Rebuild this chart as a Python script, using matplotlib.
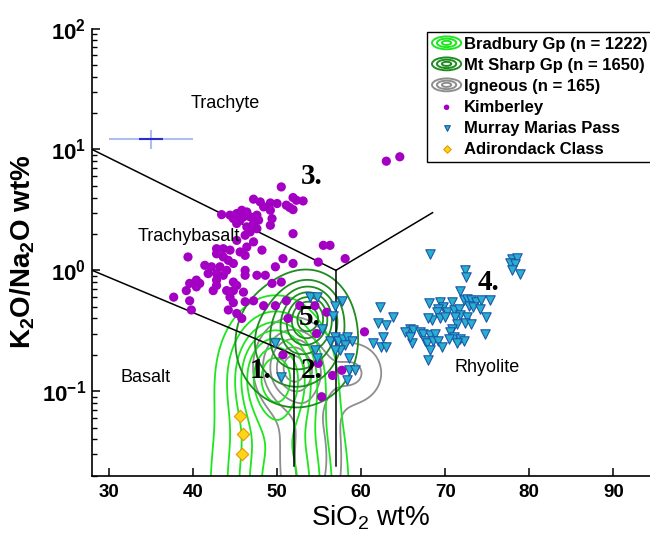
import numpy as np
import matplotlib
matplotlib.use("Agg")
import matplotlib.pyplot as plt
from matplotlib.legend_handler import HandlerBase
from matplotlib.patches import Ellipse
from matplotlib.lines import Line2D

plt.rcParams['font.family'] = ['Liberation Sans', 'DejaVu Sans']
plt.rcParams['mathtext.fontset'] = 'custom'
plt.rcParams['mathtext.rm'] = 'Liberation Sans'
plt.rcParams['mathtext.it'] = 'Liberation Sans:italic'
plt.rcParams['mathtext.bf'] = 'Liberation Sans:bold'

# ---------------- data ----------------
kim_sio2 = [50.5, 63.0, 64.6, 47.2, 48.0, 49.2, 50.0, 49.2, 48.4, 51.9, 52.3, 53.1, 51.1, 51.5, 51.9,
            43.4, 44.4, 45.2, 45.8, 46.4, 46.8, 47.6, 47.8, 47.2, 46.4, 45.6, 45.2, 44.8, 46.0, 49.4,
            49.2, 47.6, 46.8, 46.2, 51.9, 55.5, 56.3, 46.4, 47.2, 45.2, 39.4, 42.8, 43.6, 44.4, 42.8,
            43.6, 44.2, 44.8, 45.6, 46.2, 48.2, 41.4, 42.2, 43.2, 44.0, 42.8, 43.6, 41.8, 49.8, 50.7,
            51.9, 54.9, 58.1, 46.2, 46.2, 47.6, 48.6, 40.4, 40.8, 39.6, 40.4, 42.8, 42.8, 44.8, 45.2,
            44.0, 44.8, 49.4, 50.5, 37.7, 39.2, 39.6, 42.4, 46.0, 47.2, 44.4, 44.8, 46.2, 48.4, 49.8,
            39.8, 44.2, 45.2, 51.1, 52.7, 54.5, 55.9, 51.3, 50.7, 54.7, 60.4, 54.9, 57.7, 56.6, 55.3,
            45.8]
kim_ratio = [4.9, 8.0, 8.7, 3.88, 3.68, 3.61, 3.57, 3.14, 3.35, 4.0, 3.80, 3.75, 3.46, 3.31, 3.18,
             2.89, 2.86, 2.95, 3.14, 3.04, 2.77, 2.86, 2.60, 2.44, 2.29, 2.60, 2.44, 2.68, 2.77, 2.68,
             2.36, 2.21, 2.08, 1.95, 2.01, 1.61, 1.61, 1.56, 1.72, 1.77, 1.29, 1.51, 1.51, 1.47, 1.37,
             1.29, 1.21, 1.14, 1.42, 1.33, 1.47, 1.10, 1.07, 1.07, 1.00, 0.94, 0.91, 0.94, 1.07, 1.25,
             1.14, 1.17, 1.25, 1.00, 0.91, 0.91, 0.91, 0.83, 0.78, 0.78, 0.73, 0.83, 0.75, 0.80, 0.75,
             0.68, 0.68, 0.78, 0.80, 0.60, 0.68, 0.56, 0.68, 0.66, 0.56, 0.60, 0.54, 0.55, 0.51, 0.51,
             0.47, 0.47, 0.44, 0.56, 0.51, 0.51, 0.45, 0.40, 0.20, 0.30, 0.31, 0.17, 0.149, 0.135, 0.090,
             0.40]

mmp_sio2 = [68.2, 77.9, 78.5, 77.7, 78.3, 77.9, 78.9, 72.4, 72.5, 71.8, 68.1, 69.4, 70.8, 69.8, 69.2,
            69.0, 70.2, 71.0, 71.6, 72.2, 72.55, 73.1, 73.7, 74.3, 75.3, 72.8, 73.3, 74.1, 74.9, 71.8,
            71.2, 72.55, 72.4, 73.1, 71.4, 70.8, 70.6, 68.4, 69.4, 70.0, 68.0, 65.8, 65.2, 66.2, 67.0,
            67.4, 68.2, 68.8, 67.6, 67.8, 68.6, 69.2, 68.2, 69.6, 66.0, 65.8, 71.0, 71.8, 72.2, 71.4,
            70.4, 74.7, 68.0, 63.8, 63.0, 62.0, 62.2, 62.6, 62.4, 63.0, 61.4,
            53.9, 54.8, 57.7, 56.9, 56.7, 55.3, 56.3, 56.9, 57.3, 57.9, 58.3, 58.9, 58.1, 57.5, 58.5,
            56.9, 49.8, 54.5, 54.7, 58.5, 59.3, 58.3, 50.5]
mmp_ratio = [1.37, 1.25, 1.27, 1.15, 1.12, 1.00, 0.94, 1.00, 0.88, 0.68, 0.54, 0.55, 0.55, 0.50, 0.48,
             0.45, 0.45, 0.47, 0.48, 0.57, 0.58, 0.57, 0.55, 0.57, 0.57, 0.51, 0.50, 0.48, 0.41, 0.43,
             0.41, 0.41, 0.37, 0.36, 0.36, 0.33, 0.31, 0.39, 0.40, 0.41, 0.40, 0.33, 0.31, 0.32, 0.31,
             0.30, 0.29, 0.30, 0.26, 0.25, 0.26, 0.26, 0.22, 0.23, 0.25, 0.28, 0.28, 0.27, 0.26, 0.25,
             0.27, 0.30, 0.18, 0.41, 0.35, 0.37, 0.50, 0.28, 0.23, 0.23, 0.25,
             0.60, 0.60, 0.56, 0.51, 0.42, 0.33, 0.26, 0.28, 0.26, 0.27, 0.28, 0.26, 0.24, 0.22, 0.19,
             0.22, 0.25, 0.22, 0.19, 0.15, 0.15, 0.123, 0.13]

adi_sio2 = [45.6, 46.0, 45.8]
adi_ratio = [0.062, 0.0446, 0.030]

# representative error bar
err_sio2, err_ratio = [35.0], [12.2]
err_x_full, err_x_core = [5.0], [1.45]
err_ratio_lo, err_ratio_hi = [10.0], [14.4]

# classification boundary vertices
bnd_upper_x, bnd_upper_y = [28, 57], [10.0, 1.0]
bnd_right_x, bnd_right_y = [57, 68.5], [1.0, 3.0]
bnd_lower_x, bnd_lower_y = [28, 52], [1.0, 0.2]
bnd_v1_x, bnd_v1_y = [52, 52], [0.2, 0.024]
bnd_v2_x, bnd_v2_y = [57, 57], [1.0, 0.024]

# density model components (SiO2 mean, log10 ratio mean, sd SiO2, sd log, weight)
brad_mx, brad_my = [49.8, 50.3], [-0.85, -1.8]
brad_sx, brad_sy = [3.0, 3.9], [0.28, 0.55]
brad_w = [1.0, 0.75]
brad_levels = [0.07, 0.18, 0.3, 0.42, 0.55, 0.7, 0.86]

msh_mx, msh_my = [53.8, 52.3], [-0.38, -0.6]
msh_sx, msh_sy = [1.9, 3.8], [0.15, 0.28]
msh_w = [1.0, 0.5]
msh_levels = [0.06, 0.16, 0.28, 0.42, 0.56, 0.7, 0.85]

ign_mx, ign_my = [51.8, 54.0, 59.0], [-0.8, -1.55, -0.85]
ign_sx, ign_sy = [2.3, 2.3, 2.4], [0.2, 0.45, 0.17]
ign_w = [1.0, 0.45, 0.35]
ign_levels = [0.12, 0.3, 0.5, 0.7, 0.88]

legend_labels = ['Bradbury Gp (n = 1222)', 'Mt Sharp Gp (n = 1650)', 'Igneous (n = 165)',
                 'Kimberley', 'Murray Marias Pass', 'Adirondack Class']

c_brad, c_msh, c_ign = '#1ee61e', '#1e8c1e', '#8e8e8e'
c_kim = '#a300c4'

# ---------------- figure ----------------
fig = plt.figure(figsize=(6.5, 5.33), dpi=100)
ax = fig.add_axes([92 / 650, 57.3 / 533, 558 / 650, 447.1 / 533])
ax.set_yscale('log')
ax.set_xlim(27.98, 94.37)
ax.set_ylim(0.02, 100)

gx = np.linspace(28, 95, 400)
gy = np.linspace(-2.3, 2.0, 400)
GX, GY = np.meshgrid(gx, gy)


def density(mx, my, sx, sy, w):
    z = np.zeros_like(GX)
    for a, b, c, d, e in zip(mx, my, sx, sy, w):
        z += e * np.exp(-0.5 * (((GX - a) / c) ** 2 + ((GY - b) / d) ** 2))
    return z / z.max()


for comp, lev, col in [((ign_mx, ign_my, ign_sx, ign_sy, ign_w), ign_levels, c_ign),
                       ((brad_mx, brad_my, brad_sx, brad_sy, brad_w), brad_levels, c_brad),
                       ((msh_mx, msh_my, msh_sx, msh_sy, msh_w), msh_levels, c_msh)]:
    Z = density(*comp)
    ax.contour(GX, 10 ** GY, Z, levels=lev, colors=col, linewidths=1.3, zorder=2)

lk = dict(color='black', lw=1.1, zorder=3)
ax.plot(bnd_upper_x, bnd_upper_y, **lk)
ax.plot(bnd_right_x, bnd_right_y, **lk)
ax.plot(bnd_lower_x, bnd_lower_y, **lk)
ax.plot(bnd_v1_x, bnd_v1_y, **lk)
ax.plot(bnd_v2_x, bnd_v2_y, **lk)

# error cross
ax.errorbar(err_sio2, err_ratio, xerr=err_x_full, fmt='none', ecolor='#aebcf2', elinewidth=1.5, capsize=0, zorder=4)
ax.errorbar(err_sio2, err_ratio,
            yerr=[[err_ratio[0] - err_ratio_lo[0]], [err_ratio_hi[0] - err_ratio[0]]],
            fmt='none', ecolor='#aebcf2', elinewidth=1.5, capsize=0, zorder=4)
ax.errorbar(err_sio2, err_ratio, xerr=err_x_core, fmt='none', ecolor='#2b2bd0', elinewidth=1.5, capsize=0, zorder=5)

sk = ax.scatter(kim_sio2, kim_ratio, s=44, c=c_kim, edgecolors='none', zorder=6)
sm = ax.scatter(mmp_sio2, mmp_ratio, s=46, marker='v', c='#27b0cf', edgecolors='#1d55a8', linewidths=0.8, zorder=6)
sa = ax.scatter(adi_sio2, adi_ratio, s=40, marker='D', c='#ffd51a', edgecolors='#e69a00', linewidths=0.8, zorder=6)

# region text
ax.text(43.8, 24.2, 'Trachyte', fontsize=13, ha='center', va='center')
ax.text(39.5, 1.89, 'Trachybasalt', fontsize=13, ha='center', va='center', zorder=7)
ax.text(34.4, 0.131, 'Basalt', fontsize=13, ha='center', va='center')
ax.text(75.0, 0.158, 'Rhyolite', fontsize=13, ha='center', va='center')
nk = dict(fontsize=21, fontweight='bold', family='Liberation Serif', ha='center', va='center', zorder=8)
ax.text(48.0, 0.148, '1.', **nk)
ax.text(54.1, 0.148, '2.', **nk)
ax.text(54.1, 5.93, '3.', **nk)
ax.text(75.1, 0.80, '4.', **nk)
ax.text(53.9, 0.41, '5.', **nk)

# axes styling
for s in ['top', 'right']:
    ax.spines[s].set_visible(False)
for s in ['left', 'bottom']:
    ax.spines[s].set_linewidth(1.2)
ax.set_xticks([30, 40, 50, 60, 70, 80, 90])
ax.set_xticklabels(['30', '40', '50', '60', '70', '80', '90'], fontsize=13.5, fontweight='bold')
ax.set_yticks([0.1, 1, 10, 100])
ax.set_yticklabels([r'$\mathbf{10^{-1}}$', r'$\mathbf{10^{0}}$', r'$\mathbf{10^{1}}$', r'$\mathbf{10^{2}}$'], fontsize=16)
ax.tick_params(axis='both', which='major', direction='in', length=6, width=1.1, pad=4)
ax.tick_params(axis='x', pad=6)
ax.tick_params(axis='y', which='minor', direction='in', length=3.5, width=1.0)
ax.set_xlabel(r'SiO$_2$ wt%', fontsize=20, labelpad=2)
ax.set_ylabel(r'K$_\mathbf{2}$O/Na$_\mathbf{2}$O wt%', fontsize=20, fontweight='bold', labelpad=4)


class HandlerRings(HandlerBase):
    def __init__(self, color):
        super().__init__()
        self.color = color

    def create_artists(self, legend, orig_handle, xdescent, ydescent, width, height, fontsize, trans):
        cx = width / 2 - xdescent
        cy = height / 2 - ydescent
        arts = []
        for f in (1.0, 0.66, 0.32):
            arts.append(Ellipse((cx, cy), width * f, height * 1.1 * f, fill=False,
                                edgecolor=self.color, lw=1.4, transform=trans))
        return arts


h1, h2, h3 = Line2D([], []), Line2D([], []), Line2D([], [])
leg = ax.legend([h1, h2, h3, sk, sm, sa], legend_labels,
                handler_map={h1: HandlerRings(c_brad), h2: HandlerRings(c_msh), h3: HandlerRings(c_ign)},
                loc='upper left', bbox_to_anchor=(427 / 650, 1 - 31.7 / 533), bbox_transform=fig.transFigure,
                prop={'weight': 'bold', 'size': 12}, frameon=True, fancybox=False, framealpha=1,
                edgecolor='black', borderpad=0.3, labelspacing=0.36, handlelength=1.75, handletextpad=0.15,
                borderaxespad=0, markerscale=0.6)
leg.get_frame().set_linewidth(1.0)
leg.set_zorder(10)

fig.savefig('out.png', dpi=100)
